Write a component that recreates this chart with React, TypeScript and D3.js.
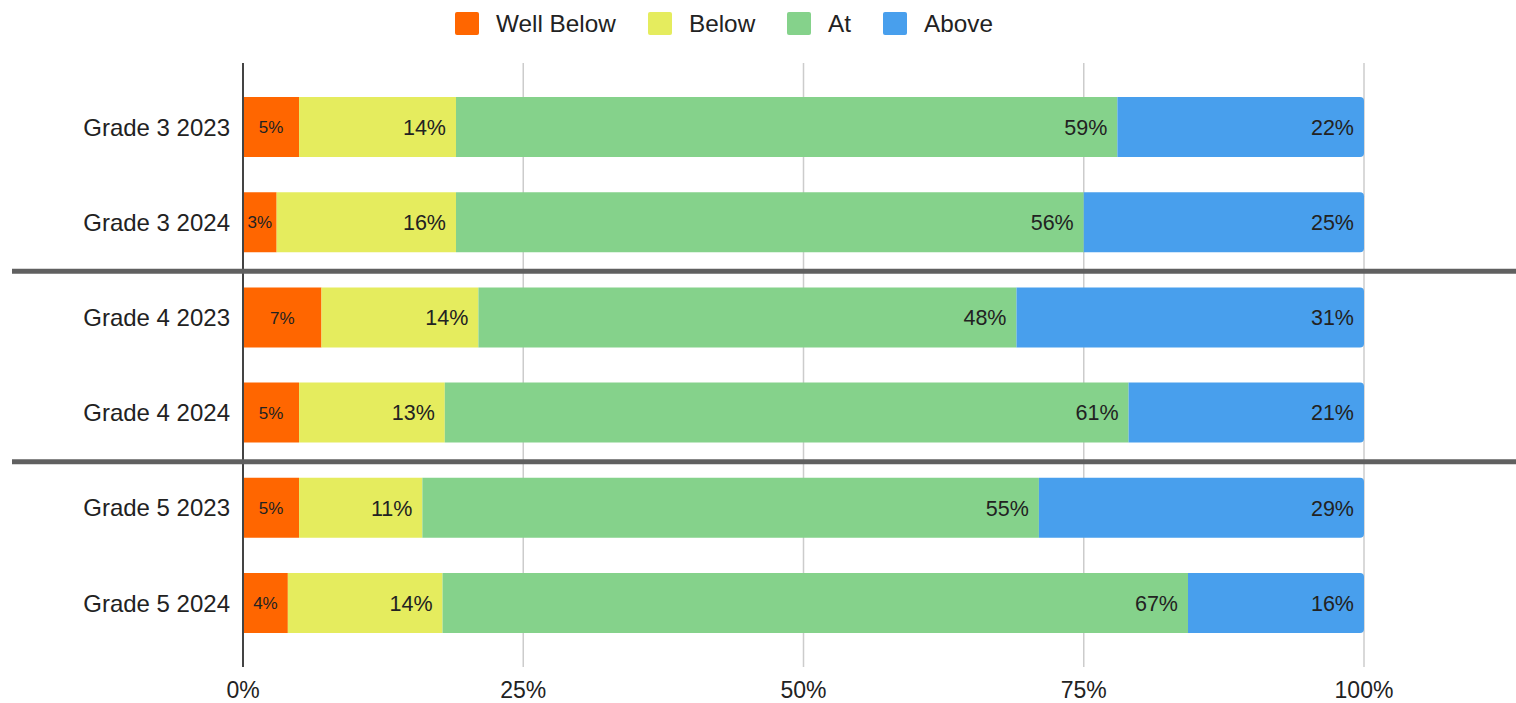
import * as d3 from "d3";
import React, { useEffect, useRef } from "react";

const width = 1516;
const height = 703;

// rows, top to bottom
const categories = [
  "Grade 3 2023",
  "Grade 3 2024",
  "Grade 4 2023",
  "Grade 4 2024",
  "Grade 5 2023",
  "Grade 5 2024",
];

const seriesNames = ["Well Below", "Below", "At", "Above"];
const seriesColors = ["#FF6600", "#E5EC5E", "#85D28B", "#489FED"];

// percent per row
const wellBelow = [5, 3, 7, 5, 5, 4];
const below = [14, 16, 14, 13, 11, 13.8];
const at = [59, 56, 48, 61, 55, 66.5];
const above = [22, 25, 31, 21, 29, 15.7];

const xTicks = [0, 25, 50, 75, 100];
// separators drawn after these row indexes
const groupBreaks = [1, 3];

const FONT = "'Liberation Sans', Arial, sans-serif";

export default function App() {
  const holderRef = useRef<HTMLDivElement | null>(null);

  useEffect(() => {
    const holder = holderRef.current;
    if (!holder || holder.hasChildNodes()) return;
    document.body.style.margin = "0";

    const series = [wellBelow, below, at, above];

    const x = d3.scaleLinear().domain([0, 100]).range([243, 1364]);
    const y = d3
      .scaleBand()
      .domain(categories)
      .range([63, 667])
      .paddingInner(0.37)
      .paddingOuter(0.357);

    const svg = d3
      .select(holder)
      .append("svg")
      .attr("width", width)
      .attr("height", height)
      .attr("viewBox", [0, 0, width, height])
      .style("display", "block")
      .style("font-family", FONT);

    // vertical gridlines
    svg
      .append("g")
      .selectAll("line")
      .data(xTicks.filter((t) => t > 0))
      .join("line")
      .attr("x1", (d) => x(d))
      .attr("x2", (d) => x(d))
      .attr("y1", 63)
      .attr("y2", 667)
      .attr("stroke", "#cccccc")
      .attr("stroke-width", 1.5);

    // tick labels
    svg
      .append("g")
      .selectAll("text")
      .data(xTicks)
      .join("text")
      .attr("x", (d) => x(d))
      .attr("y", 698)
      .attr("text-anchor", "middle")
      .attr("font-size", 23)
      .attr("fill", "#222")
      .text((d) => `${d}%`);

    // stacked bars
    const stack = d3
      .stack<number>()
      .keys(seriesNames.map((_, i) => String(i)))
      .value((rowIdx, key) => series[+key][rowIdx]);
    const stacked = stack(categories.map((_, i) => i));

    const layers = svg
      .append("g")
      .selectAll("g")
      .data(stacked)
      .join("g")
      .attr("fill", (_, i) => seriesColors[i]);

    const r = 4;
    layers
      .selectAll("path")
      .data((layer) => layer.map((seg) => ({ seg, key: +layer.key })))
      .join("path")
      .attr("d", ({ seg, key }) => {
        const x0 = x(seg[0]);
        const x1 = x(Math.min(seg[1], 100));
        const y0 = y(categories[seg.data])!;
        const h = y.bandwidth();
        if (key !== seriesNames.length - 1) {
          return `M${x0},${y0}H${x1}V${y0 + h}H${x0}Z`;
        }
        return `M${x0},${y0}H${x1 - r}Q${x1},${y0} ${x1},${y0 + r}V${y0 + h - r}Q${x1},${y0 + h} ${x1 - r},${y0 + h}H${x0}Z`;
      });

    // value labels
    layers
      .selectAll("text")
      .data((layer) => layer.map((seg) => ({ seg, key: +layer.key })))
      .join("text")
      .attr("x", ({ seg, key }) =>
        key === 0 ? (x(seg[0]) + x(seg[1])) / 2 : x(Math.min(seg[1], 100)) - 10
      )
      .attr("y", ({ seg }) => y(categories[seg.data])! + y.bandwidth() / 2)
      .attr("dy", "0.36em")
      .attr("text-anchor", ({ key }) => (key === 0 ? "middle" : "end"))
      .attr("font-size", ({ key }) => (key === 0 ? 17 : 21.5))
      .attr("fill", "#222")
      .text(({ seg, key }) => `${Math.round(series[key][seg.data])}%`);

    // zero axis
    svg
      .append("line")
      .attr("x1", x(0))
      .attr("x2", x(0))
      .attr("y1", 63)
      .attr("y2", 667)
      .attr("stroke", "#444")
      .attr("stroke-width", 2);

    // group separators
    const step = y.step();
    svg
      .append("g")
      .selectAll("line")
      .data(groupBreaks)
      .join("line")
      .attr("x1", 12)
      .attr("x2", width)
      .attr("y1", (i) => y(categories[i])! + y.bandwidth() + (step - y.bandwidth()) / 2 + 1.5)
      .attr("y2", (i) => y(categories[i])! + y.bandwidth() + (step - y.bandwidth()) / 2 + 1.5)
      .attr("stroke", "#606060")
      .attr("stroke-width", 5);

    // category labels
    svg
      .append("g")
      .selectAll("text")
      .data(categories)
      .join("text")
      .attr("x", 230)
      .attr("y", (d) => y(d)! + y.bandwidth() / 2)
      .attr("dy", "0.36em")
      .attr("text-anchor", "end")
      .attr("font-size", 24)
      .attr("fill", "#222")
      .text((d) => d);

    // legend
    const legendX = [455, 648, 787, 883];
    const legend = svg
      .append("g")
      .selectAll("g")
      .data(seriesNames)
      .join("g")
      .attr("transform", (_, i) => `translate(${legendX[i]},12)`);
    legend
      .append("rect")
      .attr("width", 24)
      .attr("height", 23)
      .attr("rx", 2)
      .attr("fill", (_, i) => seriesColors[i]);
    legend
      .append("text")
      .attr("x", 41)
      .attr("y", 11.5)
      .attr("dy", "0.36em")
      .attr("font-size", 24.3)
      .attr("fill", "#222")
      .text((d) => d);
  }, []);

  return <div ref={holderRef} />;
}
